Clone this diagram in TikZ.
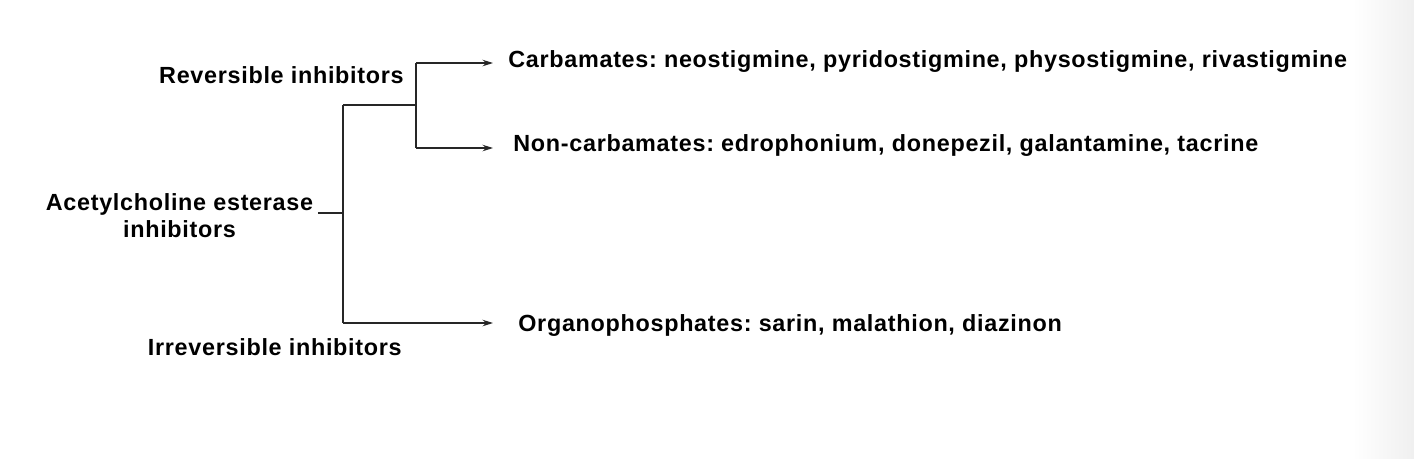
\documentclass[tikz,border=0pt]{standalone}
\usepackage{fontspec}
\setmainfont[LetterSpace=3]{Liberation Sans}
\usetikzlibrary{arrows.meta}

\begin{document}
\frenchspacing
\begin{tikzpicture}[x=0.02cm,y=-0.02cm,
		lbl/.style={inner sep=0pt, font=\fontsize{13.3}{15.3}\selectfont\bfseries},
		wire/.style={line width=0.6pt, draw=black!85},
		arr/.style={wire, -{Stealth[length=0.21cm,width=0.13cm]}}]
			%%%%% START %%%%%
			
			\useasboundingbox (0, 0) rectangle (1414, 458);
			\shade[left color=white, right color=black!6, draw=none] (1352, 0) rectangle (1414, 458);
			
			\node[lbl, anchor=base east] (rev) at (404, 83) {Reversible inhibitors};
			\node[lbl, anchor=base, align=center] (ache) at (179.5, 237) {Acetylcholine esterase\\inhibitors};
			\node[lbl, anchor=base east] (irrev) at (402, 355) {Irreversible inhibitors};
			
			\node[lbl, anchor=base west] (carb) at (508, 67) {Carbamates: neostigmine, pyridostigmine, physostigmine, rivastigmine};
			\node[lbl, anchor=base west] (noncarb) at (513, 151) {Non-carbamates: edrophonium, donepezil, galantamine, tacrine};
			\node[lbl, anchor=base west] (organo) at (518, 331) {Organophosphates: sarin, malathion, diazinon};
			
			\coordinate (jm) at (343, 213);
			\coordinate (jtop) at (343, 105);
			\coordinate (jbot) at (343, 323);
			\coordinate (jrev) at (416, 105);
			\coordinate (jc) at (416, 63);
			\coordinate (jn) at (416, 148);
			
			\draw[wire, shorten <=2.5pt] (ache.east |- jm) -- (jm);
			\draw[wire] (jtop) -- (jbot);
			\draw[wire] (jtop) -- (jrev);
			\draw[wire] (jc) -- (jn);
			
			\draw[arr, shorten >=0.3cm] (jc) -- (jc -| carb.west);
			\draw[arr, shorten >=0.4cm] (jn) -- (jn -| noncarb.west);
			\draw[arr, shorten >=0.5cm] (jbot) -- (jbot -| organo.west);
			
			%%%%% END %%%%%
		\end{tikzpicture}
\end{document}
